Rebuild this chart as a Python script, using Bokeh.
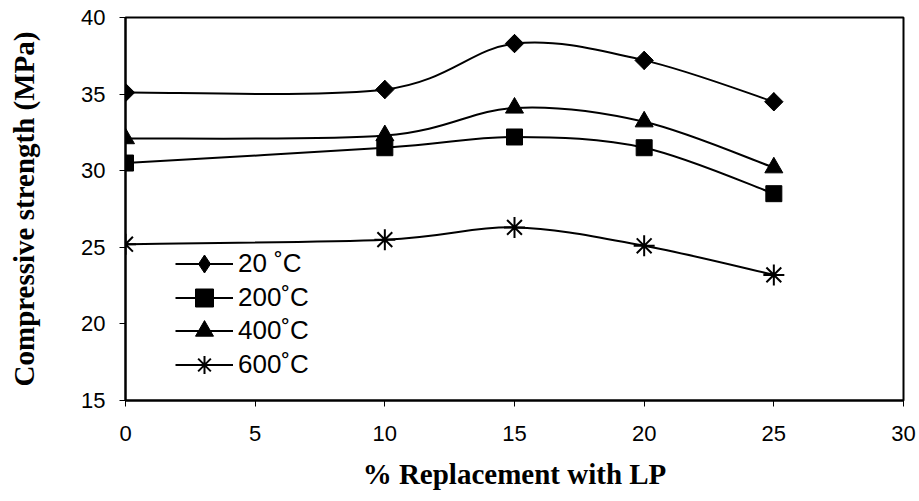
import numpy as np
from bokeh.plotting import figure
from bokeh.models import Range1d, FixedTicker, Legend, LegendItem
from bokeh.embed import file_html
from bokeh.resources import INLINE

# ---- data ----
replacement = [0, 10, 15, 20, 25]
strength_20 = [35.1, 35.3, 38.3, 37.2, 34.5]
strength_200 = [30.5, 31.5, 32.2, 31.5, 28.5]
strength_400 = [32.1, 32.3, 34.1, 33.2, 30.2]
strength_600 = [25.2, 25.5, 26.3, 25.1, 23.2]
series_labels = ["20 \u02daC", "200\u02daC", "400\u02daC", "600\u02daC"]
x_ticks = [0, 5, 10, 15, 20, 25, 30]
y_ticks = [15, 20, 25, 30, 35, 40]


def smooth_segments(xs, ys, t=1.0 / 6.0):
    """Cubic Bezier control points (Catmull-Rom style, like a spreadsheet's smoothed line)."""
    P = np.column_stack([xs, ys]).astype(float)
    ext = np.vstack([P[0], P, P[-1]])
    out = dict(x0=[], y0=[], x1=[], y1=[], cx0=[], cy0=[], cx1=[], cy1=[])
    for i in range(len(P) - 1):
        pp, p0, p1, pn = ext[i], ext[i + 1], ext[i + 2], ext[i + 3]
        c0 = p0 + (p1 - pp) * t
        c1 = p1 - (pn - p0) * t
        out["x0"].append(p0[0]); out["y0"].append(p0[1])
        out["x1"].append(p1[0]); out["y1"].append(p1[1])
        out["cx0"].append(c0[0]); out["cy0"].append(c0[1])
        out["cx1"].append(c1[0]); out["cy1"].append(c1[1])
    return out


p = figure(
    width=919, height=501,
    x_range=Range1d(0, 30), y_range=Range1d(15, 40),
    output_backend="svg", toolbar_location=None,
    min_border_left=125, min_border_right=16, min_border_top=17, min_border_bottom=101,
)
p.background_fill_color = "white"
p.border_fill_color = "white"
p.outline_line_color = "black"
p.outline_line_width = 2
p.xgrid.visible = False
p.ygrid.visible = False

for ax in (p.xaxis[0], p.yaxis[0]):
    ax.axis_line_color = "black"
    ax.axis_line_width = 2
    ax.major_tick_line_color = "black"
    ax.major_tick_line_width = 1
    ax.major_tick_in = 0
    ax.major_tick_out = 6
    ax.minor_tick_line_color = None
    ax.major_label_text_font = "Liberation Sans"
    ax.major_label_text_font_size = "22px"
    ax.major_label_text_color = "black"
    ax.axis_label_text_font = "Liberation Serif"
    ax.axis_label_text_font_style = "bold"
    ax.axis_label_text_color = "black"

p.xaxis.ticker = FixedTicker(ticks=x_ticks)
p.yaxis.ticker = FixedTicker(ticks=y_ticks)
p.xaxis.axis_label = "% Replacement with LP"
p.yaxis.axis_label = "Compressive strength (MPa)"
p.xaxis.axis_label_text_font_size = "29px"
p.yaxis.axis_label_text_font_size = "29px"
p.xaxis.major_label_standoff = 19
p.yaxis.major_label_standoff = 14
p.xaxis.axis_label_standoff = 14
p.yaxis.axis_label_standoff = 38

series = [
    (strength_20, dict(marker="square", angle=np.pi / 4, size=13)),
    (strength_200, dict(marker="square", size=16)),
    (strength_400, dict(marker="triangle", size=18)),
    (strength_600, dict(marker="asterisk", size=21, line_width=2)),
]

legend_rows_y = [114.5, 80.5, 47.5, 13.5]  # legend row offsets from the frame bottom (px)

for (vals, mk), lab, ly in zip(series, series_labels, legend_rows_y):
    seg = smooth_segments(replacement, vals)
    curve = p.bezier(x0=seg["x0"], y0=seg["y0"], x1=seg["x1"], y1=seg["y1"],
                     cx0=seg["cx0"], cy0=seg["cy0"], cx1=seg["cx1"], cy1=seg["cy1"],
                     line_color="black", line_width=2)
    kw = dict(mk)
    lw = kw.pop("line_width", 1)
    renderers = [curve]
    if kw.get("angle"):
        # legend proxy: an upright diamond hidden under the rotated-square markers
        proxy = p.scatter(x=replacement, y=vals, marker="diamond", size=18,
                          fill_color="black", line_color="black")
        renderers.append(proxy)
    sc = p.scatter(x=replacement, y=vals, fill_color="black", line_color="black",
                   line_width=lw, **kw)
    if not kw.get("angle"):
        renderers.append(sc)
    leg = Legend(items=[LegendItem(label=lab, renderers=renderers)], location=(50, ly))
    leg.glyph_width = 58
    leg.glyph_height = 45
    leg.label_height = 45
    leg.spacing = 0
    leg.padding = 0
    leg.margin = 0
    leg.label_standoff = 5
    leg.label_text_font = "Liberation Sans"
    leg.label_text_font_size = "26px"
    leg.label_text_color = "black"
    leg.border_line_color = None
    leg.background_fill_alpha = 0
    p.add_layout(leg, "center")

open("out.html", "w").write(file_html(p, INLINE))
